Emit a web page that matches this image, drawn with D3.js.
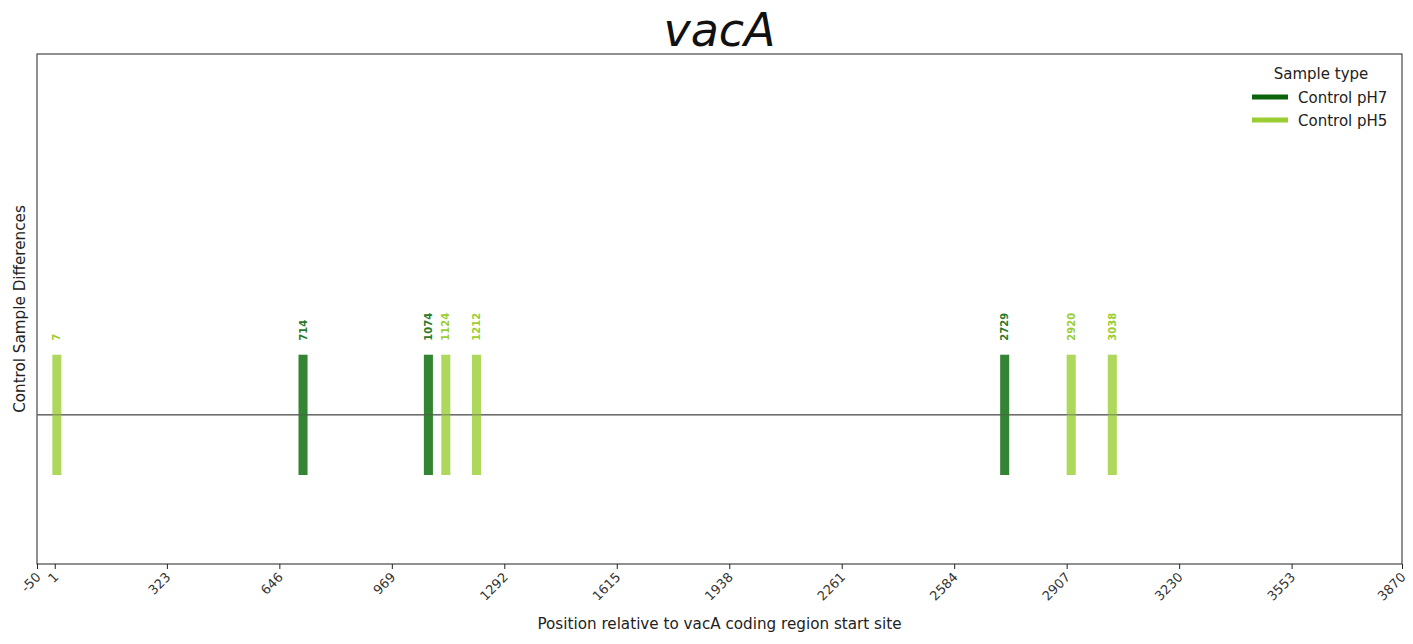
<!DOCTYPE html>
<html>
<head>
<meta charset="utf-8">
<script src="https://cdn.jsdelivr.net/npm/d3@7"></script>
<style>
  body { margin: 0; background: #fff; }
  text { font-family: "DejaVu Sans", sans-serif; }
</style>
</head>
<body>
<svg id="chart" width="1413" height="644"></svg>
<script>
// variant positions and which control sample they came from
const positions = [7, 714, 1074, 1124, 1212, 2729, 2920, 3038]
const samples = ['pH5', 'pH7', 'pH7', 'pH5', 'pH5', 'pH7', 'pH5', 'pH5']
const xTicks = [-50, 1, 323, 646, 969, 1292, 1615, 1938, 2261, 2584, 2907, 3230, 3553, 3870]
const legendNames = ['Control pH7', 'Control pH5']
const legendKeys = ['pH7', 'pH5']

const data = positions.map((p, i) => ({pos: p, sample: samples[i]}))

const barColor = {pH7: '#338433', pH5: '#aed85b'}
const labelColor = {pH7: '#2a7a2a', pH5: '#9acd32'}
const lineColor = {pH7: '#0b640b', pH5: '#9acd32'}

const margin = {top: 54, right: 11, bottom: 80, left: 37}
const width = 1413, height = 644
const svg = d3.select('#chart')

const x = d3.scaleLinear().domain([-50, 3870]).range([margin.left, width - margin.right])
const y = d3.scaleLinear().domain([-1.24, 3.0]).range([height - margin.bottom, margin.top])
const barW = 26 // in position units

// frame
svg.append('rect')
  .attr('x', margin.left).attr('y', margin.top)
  .attr('width', x(3870) - x(-50)).attr('height', y(-1.24) - y(3))
  .attr('fill', 'none').attr('stroke', '#222').attr('stroke-width', 1)

// baseline
svg.append('line')
  .attr('x1', x(-50)).attr('x2', x(3870))
  .attr('y1', y(0)).attr('y2', y(0))
  .attr('stroke', '#808080').attr('stroke-width', 1.5)

// bars
svg.selectAll('rect.bar')
  .data(data)
  .join('rect')
  .attr('class', 'bar')
  .attr('x', (d) => x(d.pos - barW / 2))
  .attr('width', (d) => x(d.pos + barW / 2) - x(d.pos - barW / 2))
  .attr('y', y(0.5))
  .attr('height', y(-0.5) - y(0.5))
  .attr('fill', (d) => barColor[d.sample])

// re-draw baseline over bars, faintly
svg.append('line')
  .attr('x1', x(-50)).attr('x2', x(3870))
  .attr('y1', y(0)).attr('y2', y(0))
  .attr('stroke', '#555').attr('stroke-opacity', 0.45).attr('stroke-width', 1.5)

// position labels
svg.selectAll('text.pos')
  .data(data)
  .join('text')
  .attr('class', 'pos')
  .attr('transform', (d) => `translate(${x(d.pos) + 3.5},${y(0.5) - 14}) rotate(-90)`)
  .attr('font-size', 10)
  .attr('font-weight', 'bold')
  .attr('fill', (d) => labelColor[d.sample])
  .text((d) => d.pos)

// x axis
const xAxis = svg.append('g')
  .attr('transform', `translate(0,${height - margin.bottom})`)
  .call(d3.axisBottom(x).tickValues(xTicks).tickFormat(String).tickSize(5).tickSizeOuter(0))
xAxis.select('.domain').remove()
xAxis.selectAll('.tick line').attr('stroke', '#222')
xAxis.selectAll('.tick text')
  .attr('font-size', 13)
  .attr('fill', '#333')
  .attr('text-anchor', 'end')
  .attr('x', 0).attr('y', 0).attr('dy', 0)
  .attr('transform', 'translate(4,14) rotate(-45)')

// axis labels
svg.append('text')
  .attr('x', (x(-50) + x(3870)) / 2).attr('y', 629)
  .attr('text-anchor', 'middle').attr('font-size', 15.2).attr('fill', '#222')
  .text('Position relative to vacA coding region start site')

svg.append('text')
  .attr('transform', `translate(25,${(y(3) + y(-1.24)) / 2}) rotate(-90)`)
  .attr('text-anchor', 'middle').attr('font-size', 15.2).attr('fill', '#222')
  .text('Control Sample Differences')

// title
svg.append('text')
  .attr('x', (x(-50) + x(3870)) / 2).attr('y', 46)
  .attr('text-anchor', 'middle').attr('font-size', 46)
  .attr('font-style', 'italic').attr('fill', '#111')
  .text('vacA')

// legend
const leg = svg.append('g').attr('transform', 'translate(1252,0)')
leg.append('text')
  .attr('x', 69).attr('y', 79)
  .attr('text-anchor', 'middle').attr('font-size', 15).attr('fill', '#222')
  .text('Sample type')
leg.selectAll('g.item')
  .data(legendKeys)
  .join('g')
  .attr('class', 'item')
  .attr('transform', (d, i) => `translate(0,${97 + i * 23})`)
  .each(function (d, i) {
    const g = d3.select(this)
    g.append('line').attr('x1', 0).attr('x2', 36)
      .attr('stroke', lineColor[d]).attr('stroke-width', 5)
    g.append('text').attr('x', 46).attr('y', 5.5)
      .attr('font-size', 15).attr('fill', '#222')
      .text(legendNames[i])
  })
</script>
</body>
</html>
